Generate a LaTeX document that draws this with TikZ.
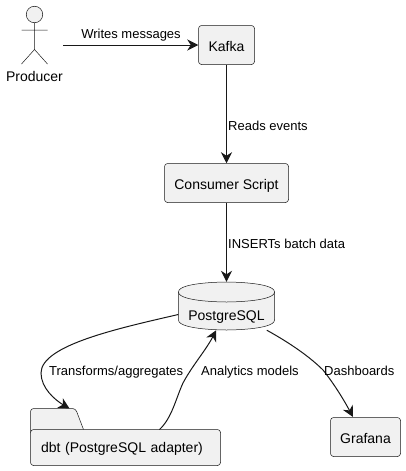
\documentclass[tikz,border=0pt]{standalone}
\usepackage{fontspec}
\setmainfont{Liberation Sans}
\usetikzlibrary{arrows.meta}
\definecolor{boxfill}{HTML}{F1F1F1}
\definecolor{boxline}{HTML}{181818}
\tikzset{
  box/.style={draw=boxline, fill=boxfill, line width=0.5pt, rounded corners=3pt,
    inner sep=0, text height=12pt, text depth=0pt, font=\fontsize{14}{16}\selectfont},
  stick/.style={draw=boxline, line width=0.5pt},
  link/.style={draw=boxline, line width=1pt,
    -{Stealth[inset=3.5pt, length=11pt, width=11pt]}},
  linklabel/.style={inner sep=0, anchor=base west, font=\fontsize{13}{15}\selectfont}
}

\begin{document}
\begin{tikzpicture}[x=1pt, y=-1pt]
  \useasboundingbox (0, 0) rectangle (405, 471);

  % actor
  \node[circle, stick, fill=boxfill, inner sep=0, minimum size=16.5pt]
    (head) at (34.5, 14.5) {};
  \coordinate (hip) at (34.5, 49.5);
  \coordinate (armL) at (21.5, 30);
  \coordinate (armR) at (47.5, 30);
  \coordinate (legL) at (21.5, 64);
  \coordinate (legR) at (47.5, 64);
  \draw[stick] (head) -- (hip) (armL) -- (armR) (legL) -- (hip) -- (legR);
  \node[inner sep=0, anchor=base, font=\fontsize{14}{16}\selectfont]
    (producer) at (34.5, 81.5) {Producer};
  \coordinate (prodOut) at (63, 45);

  \node[box, minimum width=56pt, minimum height=39pt]
    (kafka) at (226.5, 45) {Kafka};

  \node[box, minimum width=124pt, minimum height=39pt]
    (consumer) at (226.5, 183) {Consumer Script};

  % can outline first, the node only holds the text
  \draw[box, rounded corners=0]
    (178.5, 292) .. controls (178.5, 282) and (226.5, 282) .. (226.5, 282)
    .. controls (226.5, 282) and (274.5, 282) .. (274.5, 292)
    -- (274.5, 320)
    .. controls (274.5, 330) and (226.5, 330) .. (226.5, 330)
    .. controls (226.5, 330) and (178.5, 330) .. (178.5, 320) -- cycle;
  \draw[stick]
    (178.5, 292) .. controls (178.5, 302) and (226.5, 302) .. (226.5, 302)
    .. controls (226.5, 302) and (274.5, 302) .. (274.5, 292);
  \node[inner sep=0, minimum width=96pt, minimum height=48pt,
    text height=28pt, text depth=0pt, font=\fontsize{14}{16}\selectfont]
    (pg) at (226.5, 306) {PostgreSQL};

  % folder tab goes under the body
  \draw[box] (30.5, 433) -- (30.5, 408.5) -- (75.5, 408.5) -- (83.5, 429.5);
  \node[box, minimum height=36pt, text width=169pt, inner xsep=10.5pt, text height=9pt]
    (dbt) at (125.5, 447.5) {dbt (PostgreSQL adapter)};
  \coordinate (tabIn) at (69.5, 408.5);
  \coordinate (dbtOut) at (159.5, 429.5);

  \node[box, minimum width=70pt, minimum height=39pt]
    (grafana) at (365.5, 437) {Grafana};

  \draw[link] (prodOut) -- (kafka);
  \draw[link] (kafka) -- (consumer);
  \draw[link] (consumer) -- (pg);
  \draw[link] (pg.190) .. controls (120, 328) and (41, 345) .. (41, 373)
    .. controls (41, 388) and (55, 400) .. (tabIn);
  \draw[link] (dbtOut) .. controls (172, 418) and (176, 398) .. (183, 383)
    .. controls (192, 366) and (206, 350) .. (pg.247);
  \draw[link] (pg.329) .. controls (290, 343) and (310, 357) .. (323, 370)
    .. controls (335, 385) and (345, 402) .. (353, 417);

  \node[linklabel, anchor=base] (writes) at (131, 38) {Writes messages};
  \node[linklabel] (reads) at (228, 130) {Reads events};
  \node[linklabel] (inserts) at (228, 248.3) {INSERTs batch data};
  \node[linklabel] (transforms) at (49, 375) {Transforms/aggregates};
  \node[linklabel] (analytics) at (201, 375) {Analytics models};
  \node[linklabel] (dashboards) at (324, 375) {Dashboards};
\end{tikzpicture}
\end{document}
